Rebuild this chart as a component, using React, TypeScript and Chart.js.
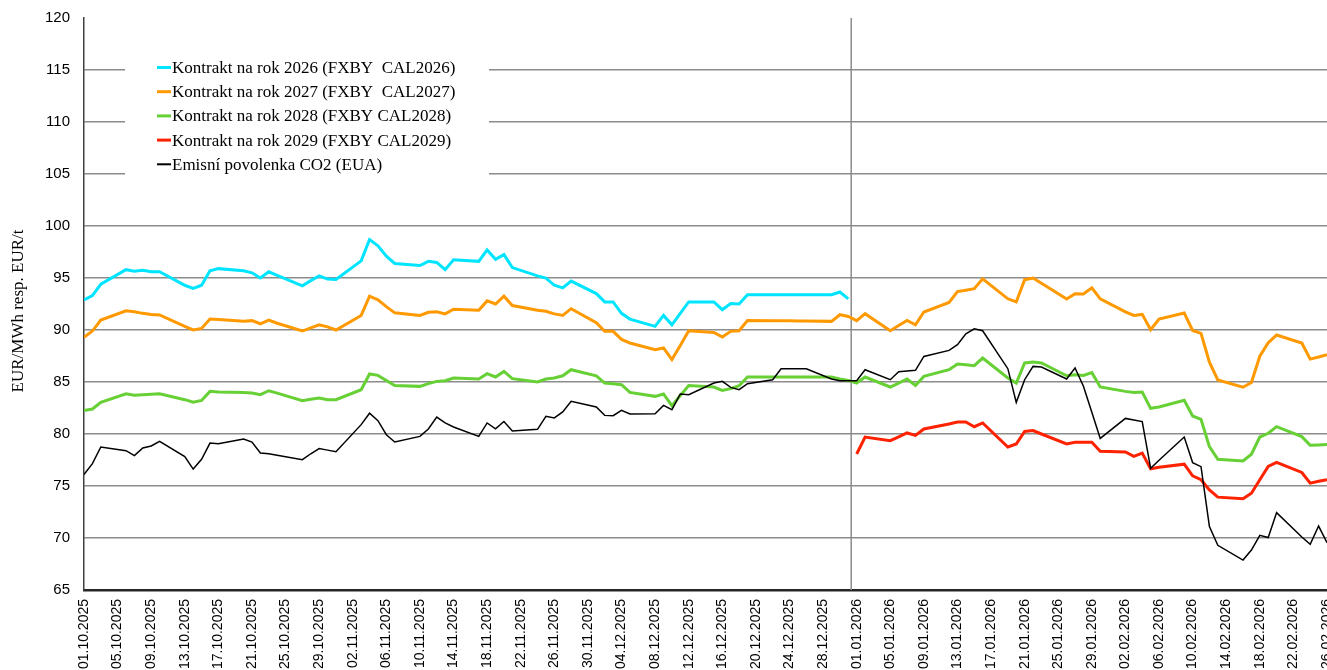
import React, { useEffect, useRef } from 'react';
import { Chart, registerables } from 'chart.js';

Chart.register(...registerables);

// Trading dates (dd.mm.yyyy)
const DATES: string[] = [
  '01.10.2025', '02.10.2025', '03.10.2025', '06.10.2025', '07.10.2025', '08.10.2025', '09.10.2025', '10.10.2025',
  '13.10.2025', '14.10.2025', '15.10.2025', '16.10.2025', '17.10.2025', '20.10.2025', '21.10.2025', '22.10.2025',
  '23.10.2025', '24.10.2025', '27.10.2025', '28.10.2025', '29.10.2025', '30.10.2025', '31.10.2025',
  '03.11.2025', '04.11.2025', '05.11.2025', '06.11.2025', '07.11.2025', '10.11.2025', '11.11.2025', '12.11.2025',
  '13.11.2025', '14.11.2025', '17.11.2025', '18.11.2025', '19.11.2025', '20.11.2025', '21.11.2025', '24.11.2025',
  '25.11.2025', '26.11.2025', '27.11.2025', '28.11.2025',
  '01.12.2025', '02.12.2025', '03.12.2025', '04.12.2025', '05.12.2025', '08.12.2025', '09.12.2025', '10.12.2025',
  '11.12.2025', '12.12.2025', '15.12.2025', '16.12.2025', '17.12.2025', '18.12.2025', '19.12.2025', '22.12.2025',
  '23.12.2025', '24.12.2025', '25.12.2025', '26.12.2025', '29.12.2025', '30.12.2025', '31.12.2025',
  '01.01.2026', '02.01.2026', '05.01.2026', '06.01.2026', '07.01.2026', '08.01.2026', '09.01.2026', '12.01.2026',
  '13.01.2026', '14.01.2026', '15.01.2026', '16.01.2026', '19.01.2026', '20.01.2026', '21.01.2026', '22.01.2026',
  '23.01.2026', '26.01.2026', '27.01.2026', '28.01.2026', '29.01.2026', '30.01.2026',
  '02.02.2026', '03.02.2026', '04.02.2026', '05.02.2026', '06.02.2026', '09.02.2026', '10.02.2026', '11.02.2026',
  '12.02.2026', '13.02.2026', '16.02.2026', '17.02.2026', '18.02.2026', '19.02.2026', '20.02.2026', '23.02.2026',
  '24.02.2026', '25.02.2026', '26.02.2026',
];

const CAL2026: (number | null)[] = [
  92.9, 93.3, 94.4, 95.8, 95.65, 95.75, 95.6, 95.6, 94.3, 94.0, 94.3, 95.7, 95.9, 95.7, 95.5, 95.0, 95.6, 95.25, 94.25, 94.75, 95.2, 94.9, 94.85,
  96.65, 98.7, 98.1, 97.1, 96.4, 96.2, 96.6, 96.5, 95.8, 96.75, 96.6, 97.7, 96.8, 97.25, 96.0, 95.2, 95.0, 94.3, 94.05, 94.7,
  93.5, 92.7, 92.7, 91.6, 91.05, 90.35, 91.4, 90.5, 91.6, 92.7, 92.7, 91.95, 92.55, 92.5, 93.4, 93.4, 93.4, 93.4, 93.4, 93.4, 93.4, 93.65, 93.0,
  null, null, null, null, null, null, null, null, null, null, null, null, null, null, null, null, null, null, null, null, null, null,
  null, null, null, null, null, null, null, null, null, null, null, null, null, null, null, null, null, null, null,
];

const CAL2027: (number | null)[] = [
  89.3, 89.9, 90.95, 91.85, 91.75, 91.6, 91.5, 91.45, 90.35, 90.0, 90.15, 91.05, 91.0, 90.85, 90.9, 90.6, 90.95, 90.65, 89.9, 90.2, 90.5, 90.3, 90.0,
  91.4, 93.25, 92.9, 92.25, 91.65, 91.4, 91.7, 91.75, 91.55, 92.0, 91.9, 92.8, 92.5, 93.25, 92.35, 91.9, 91.8, 91.55, 91.4, 92.05,
  90.7, 89.87, 89.87, 89.1, 88.75, 88.1, 88.27, 87.15, 88.5, 89.93, 89.77, 89.33, 89.87, 89.93, 90.92, 90.9, 90.9, 90.88, 90.87, 90.87, 90.83, 91.47, 91.3,
  90.9, 91.57, 89.93, 90.44, 90.92, 90.5, 91.73, 92.65, 93.7, 93.83, 93.97, 94.93, 93.0, 92.7, 94.84, 95.0, 94.5, 92.98, 93.49, 93.46, 94.05, 93.0,
  91.75, 91.4, 91.5, 90.03, 91.05, 91.63, 89.95, 89.68, 86.9, 85.2, 84.5, 84.95, 87.48, 88.77, 89.52, 88.75, 87.2, 87.4, 87.63,
];

const CAL2028: (number | null)[] = [
  82.25, 82.4, 83.05, 83.87, 83.72, 83.78, 83.82, 83.87, 83.3, 83.05, 83.23, 84.1, 84.04, 83.98, 83.94, 83.78, 84.16, 83.93, 83.2, 83.35, 83.46, 83.3, 83.3,
  84.26, 85.77, 85.64, 85.15, 84.67, 84.58, 84.84, 85.06, 85.13, 85.38, 85.29, 85.8, 85.48, 86.02, 85.32, 85.0, 85.29, 85.38, 85.6, 86.18,
  85.6, 84.9, 84.84, 84.74, 84.0, 83.62, 83.85, 82.72, 83.7, 84.67, 84.52, 84.19, 84.36, 84.64, 85.48, 85.48, 85.48, 85.48, 85.48, 85.48, 85.48, 85.29, 85.15,
  84.9, 85.48, 84.52, 84.9, 85.29, 84.67, 85.54, 86.18, 86.73, 86.65, 86.57, 87.3, 85.38, 84.9, 86.83, 86.92, 86.83, 85.6, 85.7, 85.63, 85.9, 84.52,
  84.1, 83.98, 84.04, 82.47, 82.6, 83.24, 81.73, 81.41, 78.79, 77.57, 77.4, 78.05, 79.71, 80.07, 80.71, 79.75, 78.91, 78.95, 79.0,
];

const CAL2029: (number | null)[] = [
  null, null, null, null, null, null, null, null, null, null, null, null, null, null, null, null, null, null, null, null, null, null, null,
  null, null, null, null, null, null, null, null, null, null, null, null, null, null, null, null, null, null, null, null,
  null, null, null, null, null, null, null, null, null, null, null, null, null, null, null, null, null, null, null, null, null, null, null,
  78.08, 79.71, 79.36, 79.73, 80.1, 79.87, 80.48, 80.96, 81.15, 81.15, 80.7, 81.06, 78.75, 79.04, 80.25, 80.33, 80.0, 79.05, 79.2, 79.2, 79.2, 78.33,
  78.27, 77.85, 78.17, 76.65, 76.8, 77.1, 75.98, 75.6, 74.63, 73.93, 73.77, 74.31, 75.6, 76.88, 77.27, 76.3, 75.27, 75.45, 75.6,
];

const EUA: (number | null)[] = [
  76.1, 77.15, 78.75, 78.4, 77.92, 78.65, 78.85, 79.3, 77.83, 76.63, 77.57, 79.13, 79.07, 79.52, 79.23, 78.17, 78.1, 77.95, 77.53, 78.1, 78.6, 78.45, 78.3,
  80.9, 82.0, 81.28, 79.93, 79.23, 79.77, 80.48, 81.63, 81.06, 80.67, 79.77, 81.06, 80.5, 81.2, 80.3, 80.45, 81.7, 81.54, 82.12, 83.14,
  82.6, 81.79, 81.76, 82.27, 81.92, 81.95, 82.75, 82.34, 83.85, 83.78, 84.9, 85.06, 84.48, 84.26, 84.84, 85.22, 86.28, 86.28, 86.28, 86.28, 85.29, 85.13, 85.13,
  85.13, 86.18, 85.22, 85.99, 86.05, 86.12, 87.46, 88.04, 88.59, 89.64, 90.12, 89.93, 86.28, 83.04, 85.22, 86.5, 86.44, 85.29, 86.35, 84.6, 82.1, 79.58,
  81.5, 81.35, 81.2, 76.7, 77.48, 79.71, 77.25, 76.86, 71.09, 69.3, 67.88, 68.84, 70.26, 70.04, 72.44, 70.1, 69.39, 71.15, 69.55,
];

const SERIES_LABELS: string[] = [
  'Kontrakt na rok 2026 (FXBY  CAL2026)',
  'Kontrakt na rok 2027 (FXBY  CAL2027)',
  'Kontrakt na rok 2028 (FXBY CAL2028)',
  'Kontrakt na rok 2029 (FXBY CAL2029)',
  'Emisní povolenka CO2 (EUA)',
];

const X_TICK_LABELS: string[] = [
  '01.10.2025', '05.10.2025', '09.10.2025', '13.10.2025', '17.10.2025', '21.10.2025', '25.10.2025', '29.10.2025',
  '02.11.2025', '06.11.2025', '10.11.2025', '14.11.2025', '18.11.2025', '22.11.2025', '26.11.2025', '30.11.2025',
  '04.12.2025', '08.12.2025', '12.12.2025', '16.12.2025', '20.12.2025', '24.12.2025', '28.12.2025',
  '01.01.2026', '05.01.2026', '09.01.2026', '13.01.2026', '17.01.2026', '21.01.2026', '25.01.2026', '29.01.2026',
  '02.02.2026', '06.02.2026', '10.02.2026', '14.02.2026', '18.02.2026', '22.02.2026', '26.02.2026',
];

const Y_TITLE = 'EUR/MWh resp. EUR/t';

function parseDate(s: string): number {
  const [d, m, y] = s.split('.').map(Number);
  return Date.UTC(y, m - 1, d);
}
const T0 = parseDate(X_TICK_LABELS[0]);
function dayIndex(s: string): number {
  return Math.round((parseDate(s) - T0) / 86400000);
}
const X_MAX = dayIndex(X_TICK_LABELS[X_TICK_LABELS.length - 1]);
const YEAR_BOUNDARY = dayIndex('31.12.2025') + 0.35;

function toPoints(values: (number | null)[]) {
  const pts: { x: number; y: number }[] = [];
  DATES.forEach((d, i) => {
    const v = values[i];
    if (v !== null && v !== undefined) pts.push({ x: dayIndex(d), y: v });
  });
  return pts;
}

const yearLinePlugin = {
  id: 'yearLine',
  beforeDatasetsDraw(chart: any) {
    const { ctx, chartArea, scales } = chart;
    const px = scales.x.getPixelForValue(YEAR_BOUNDARY);
    ctx.save();
    ctx.strokeStyle = '#8c8c8c';
    ctx.lineWidth = 1.5;
    ctx.beginPath();
    ctx.moveTo(px, chartArea.top);
    ctx.lineTo(px, chartArea.bottom);
    ctx.stroke();
    ctx.restore();
  },
};

const yTitlePlugin = {
  id: 'yTitle',
  afterDraw(chart: any) {
    const { ctx } = chart;
    ctx.save();
    ctx.translate(19, 311);
    ctx.rotate(-Math.PI / 2);
    ctx.fillStyle = '#000000';
    ctx.font = '17px "Liberation Serif"';
    ctx.textAlign = 'center';
    ctx.textBaseline = 'middle';
    ctx.fillText(Y_TITLE, 0, 0);
    ctx.restore();
  },
};

const legendPlugin = {
  id: 'boxLegend',
  afterDraw(chart: any) {
    const { ctx } = chart;
    ctx.save();
    ctx.fillStyle = '#ffffff';
    ctx.fillRect(125, 50, 364, 130);
    chart.data.datasets.forEach((ds: any, i: number) => {
      const y = 67.5 + i * 24.2;
      ctx.strokeStyle = ds.borderColor;
      ctx.lineWidth = ds.legendWidth;
      ctx.beginPath();
      ctx.moveTo(157, y);
      ctx.lineTo(171, y);
      ctx.stroke();
      ctx.fillStyle = '#000000';
      ctx.font = '17px "Liberation Serif"';
      ctx.textAlign = 'left';
      ctx.textBaseline = 'middle';
      ctx.fillText(ds.label, 172, y + 1);
    });
    ctx.restore();
  },
};

export default function App() {
  const canvasRef = useRef<HTMLCanvasElement | null>(null);

  useEffect(() => {
    if (!canvasRef.current) return;
    const colors = ['#00E5FF', '#FF9900', '#66D035', '#FF2200', '#000000'];
    const widths = [3, 3, 3, 3, 1.5];
    const series = [CAL2026, CAL2027, CAL2028, CAL2029, EUA];
    const datasets = series.map((s, i) => ({
      label: SERIES_LABELS[i],
      data: toPoints(s),
      borderColor: colors[i],
      backgroundColor: colors[i],
      borderWidth: widths[i],
      legendWidth: i === 4 ? 2 : 3,
      pointRadius: 0,
      tension: 0,
      fill: false,
      order: 5 - i,
    }));

    const chart = new Chart(canvasRef.current, {
      type: 'line',
      data: { datasets } as any,
      options: {
        responsive: false,
        animation: false,
        layout: { padding: { top: 18, right: 0, left: 0, bottom: 0 } },
        plugins: {
          legend: { display: false },
          tooltip: { enabled: false },
        },
        scales: {
          x: {
            type: 'linear',
            min: 0,
            max: X_MAX,
            ticks: {
              stepSize: 4,
              autoSkip: false,
              maxRotation: 90,
              minRotation: 90,
              padding: 9,
              color: '#000000',
              font: { family: 'Liberation Sans', size: 14 },
              callback: (_v: any, i: number) => X_TICK_LABELS[i] ?? '',
            },
            grid: { drawOnChartArea: false, drawTicks: false },
            border: { color: '#262626', width: 2.5 },
            afterFit: (s: any) => {
              s.height = 80;
              s.paddingLeft = 0;
              s.paddingRight = 0;
            },
          },
          y: {
            min: 65,
            max: 120,
            ticks: {
              stepSize: 5,
              padding: 14,
              color: '#000000',
              font: { family: 'Liberation Sans', size: 15 },
            },
            grid: {
              color: (c: any) => (c.tick && c.tick.value === 120 ? 'rgba(0,0,0,0)' : '#8c8c8c'),
              lineWidth: 1.5,
              drawTicks: false,
            },
            border: { color: '#404040', width: 1.5 },
            afterFit: (s: any) => {
              s.width = 84;
              s.paddingTop = 0;
              s.paddingBottom = 0;
            },
          },
        } as any,
      },
      plugins: [yearLinePlugin, legendPlugin, yTitlePlugin],
    });
    return () => chart.destroy();
  }, []);

  return (
    <div style={{ position: 'absolute', left: 0, top: 0, width: 1327, height: 670, background: '#ffffff' }}>
      <canvas ref={canvasRef} width={1327} height={670} style={{ display: 'block' }} />
    </div>
  );
}
